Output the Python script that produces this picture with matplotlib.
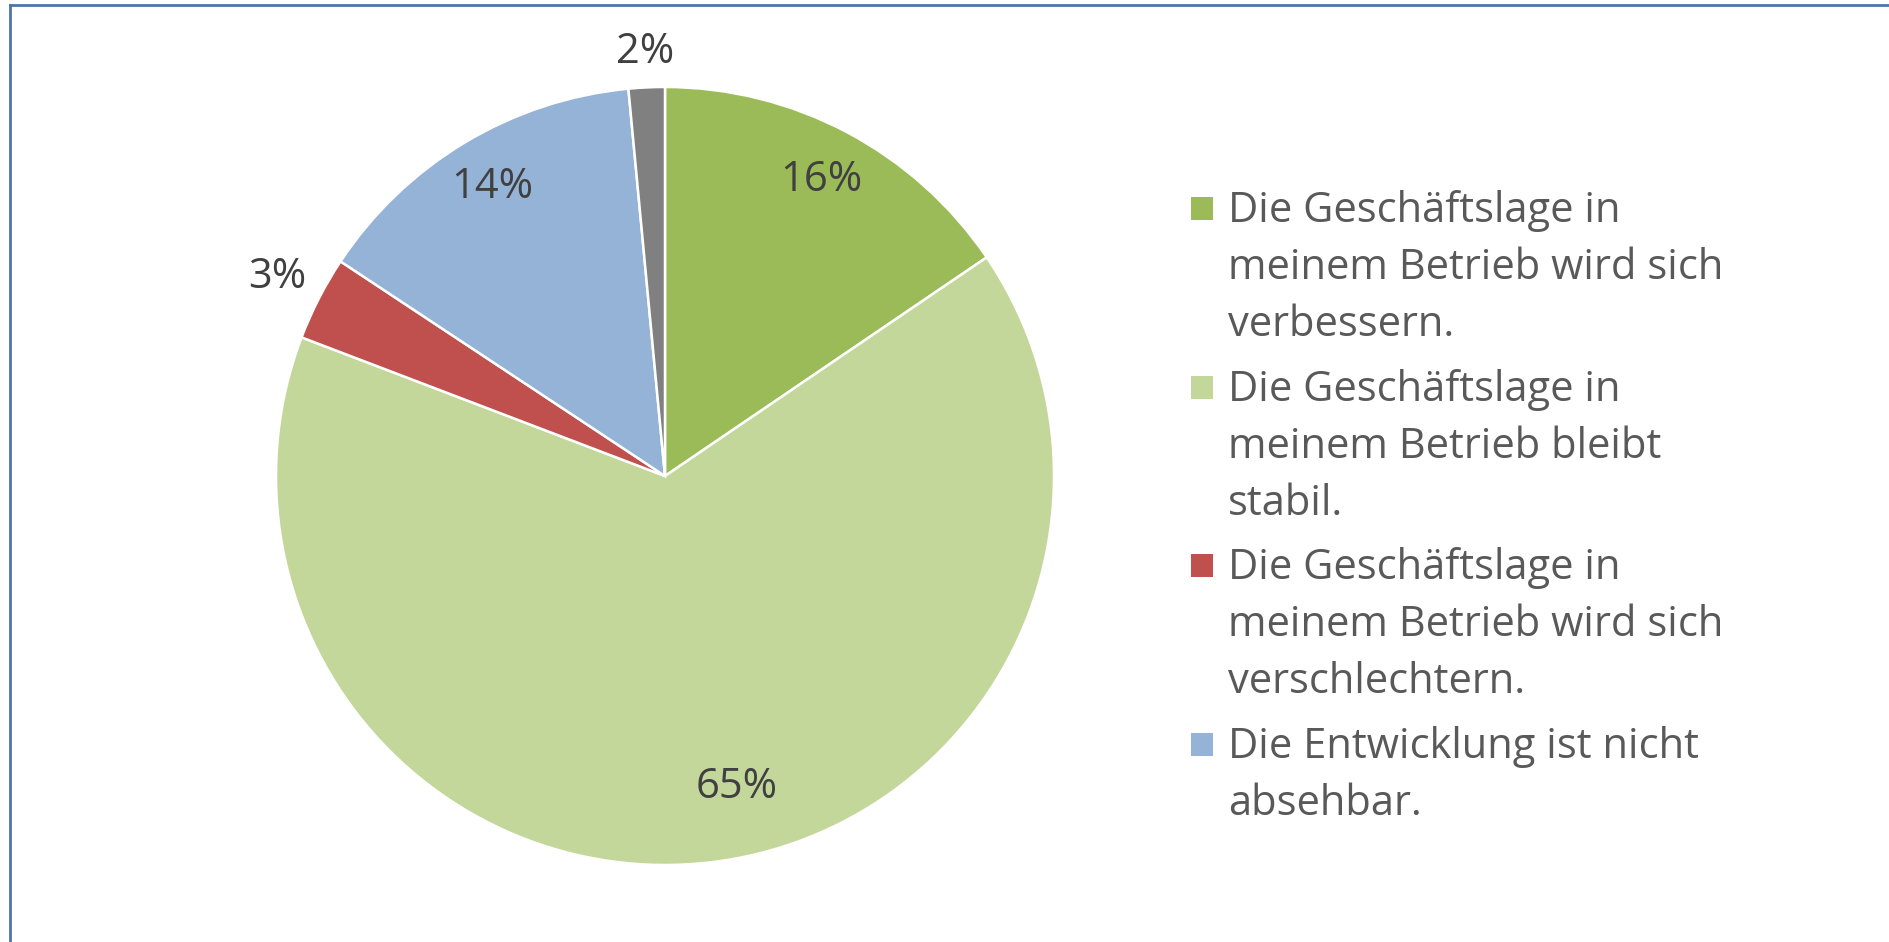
import matplotlib.pyplot as plt
import numpy as np
from matplotlib.lines import Line2D
from matplotlib.patches import Rectangle

W, H = 1889, 942

# data
categories = [
    "Die Geschäftslage in\nmeinem Betrieb wird sich\nverbessern.",
    "Die Geschäftslage in\nmeinem Betrieb bleibt\nstabil.",
    "Die Geschäftslage in\nmeinem Betrieb wird sich\nverschlechtern.",
    "Die Entwicklung ist nicht\nabsehbar.",
    "keine Angabe",
]
values = [15.5, 65.3, 3.5, 14.2, 1.5]
pct_labels = ["16%", "65%", "3%", "14%", "2%"]
colors = ["#9BBB59", "#C4D79B", "#C0504D", "#95B3D7", "#808080"]
label_dist = [0.86, 0.82, 1.12, 0.865, 1.09]
label_turn = [0, 6.3, 0, 0, 0]

FONT = "Open Sans"

fig = plt.figure(figsize=(W / 100, H / 100), dpi=100)
fig.patch.set_facecolor("white")

# pie axes: centre (665, 476) px, radius 389 px
cx, cy, r = 665, 476, 389
ax = fig.add_axes([(cx - r) / W, (H - cy - r) / H, 2 * r / W, 2 * r / H])
wedges, _ = ax.pie(values, colors=colors, startangle=90, counterclock=False,
                   radius=1.0, wedgeprops=dict(edgecolor="white", linewidth=1.8))
ax.set_xlim(-1, 1)
ax.set_ylim(-1, 1)
ax.set_aspect("equal")
ax.axis("off")

for w, lab, d, t in zip(wedges, pct_labels, label_dist, label_turn):
    ang = np.deg2rad((w.theta1 + w.theta2) / 2 + t)
    ax.text(d * np.cos(ang), d * np.sin(ang), lab, ha="center", va="center",
            fontsize=30, color="#404040", family=FONT)

# legend drawn by hand (only first four entries are visible)
x_box, x_txt = 1191, 1228
base0 = 222       # baseline of first line
line_h = 57
entry_h = 178.7
for i in range(4):
    b = base0 + i * entry_h
    fig.add_artist(Rectangle((x_box / W, 1 - (b - 2) / H), 22 / W, 23 / H,
                             transform=fig.transFigure, facecolor=colors[i],
                             edgecolor="none"))
    for k, line in enumerate(categories[i].split("\n")):
        fig.text(x_txt / W, 1 - (b + k * line_h) / H, line, ha="left",
                 va="baseline", fontsize=30, color="#595959", family=FONT)

# frame lines (top and left only)
fig.add_artist(Line2D([10 / W, 1], [1 - 5 / H, 1 - 5 / H], color="#4F75A8",
                      linewidth=2, transform=fig.transFigure))
fig.add_artist(Line2D([10 / W, 10 / W], [0, 1 - 5 / H], color="#4F75A8",
                      linewidth=2, transform=fig.transFigure))

fig.savefig("out.png", dpi=100)
